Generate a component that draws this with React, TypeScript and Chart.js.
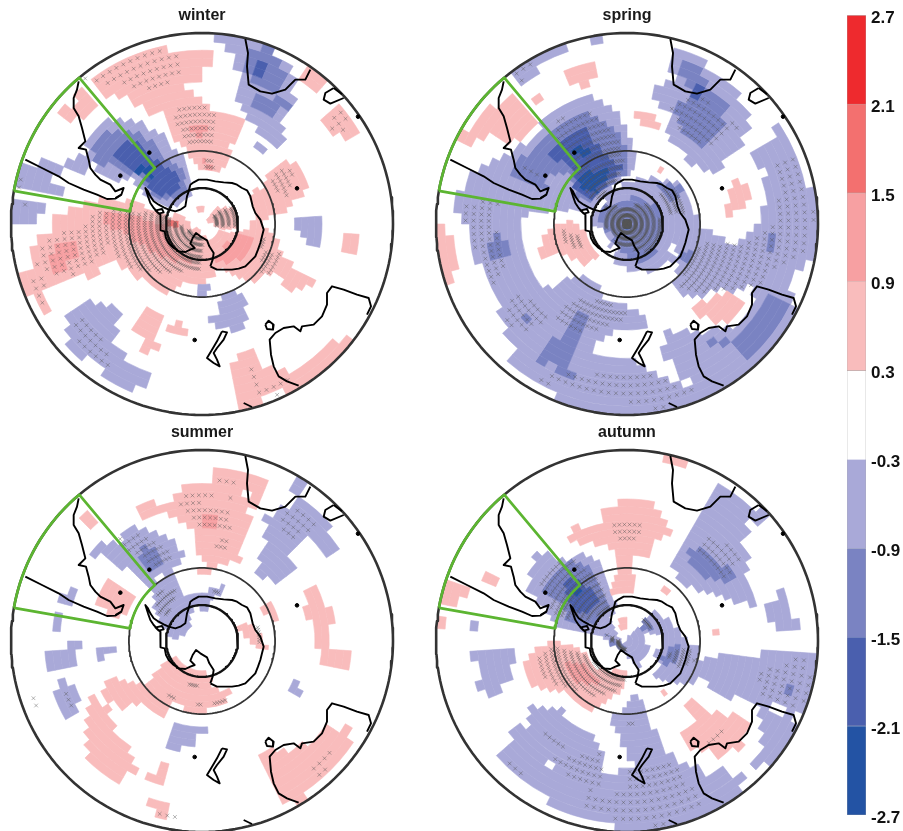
import React, { useEffect, useRef } from "react";
import Chart from "chart.js/auto";

// Map units: stereographic south-polar map, traced in units of 1/3 px, origin given per season.
type Blob = number[]; // [level, x1, y1, x2, y2, ...]
const seasonTitles = ["winter", "spring", "summer", "autumn"];
const tickValues = [-2.7, -2.1, -1.5, -0.9, -0.3, 0.3, 0.9, 1.5, 2.1, 2.7];
const levelColors: Record<number, string> = {
  [-4]: "#2353a4", [-3]: "#4a5fae", [-2]: "#7a83c2", [-1]: "#a9a9d8", 0: "#ffffff",
  1: "#f9bcbc", 2: "#f7a0a2", 3: "#f3706f", 4: "#ee2a2e",
};
const barBins = [-4, -3, -2, -1, 0, 1, 2, 3, 4];
const rimLat = -20;
const circleLats = [-20, -60, -75];
const sectorLons = [-80, -40];
const sectorLats = [-60, -20];

const winterShades: Blob[] = [
  [1, 245,232,330,195,470,140,520,150,560,160,585,150,650,152,650,190,612,215,600,245,540,232,530,250,590,285,640,330,670,345,722,360,732,400,690,432,682,482,650,520,600,505,575,470,555,450,520,410,500,370,495,345,430,330,385,300,345,270,320,290,280,265],
  [1, 250,270,300,330,240,350,220,300],
  [1, 165,340,205,320,225,370,180,370],
  [1, 110,395,130,395,120,420],
  [1, 65,820,90,795,90,740,155,695,165,645,240,622,290,600,390,600,470,640,510,650,540,640,575,680,615,710,640,735,640,800,640,830,600,850,560,840,500,880,460,860,380,810,330,770,305,790,300,830,230,835,180,840,135,870,140,970,100,910,60,850],
  [1, 620,800,690,815,745,850,790,830,830,825,870,872,925,862,945,830,905,810,860,785,830,725,790,680,800,640,855,640,890,600,925,545,885,482,855,485,790,520,805,570,760,565,745,600,770,640,745,690,700,700,660,690,630,720,645,760],
  [1, 645,625,700,620,715,680,660,690,620,660],
  [1, 590,620,610,620,610,635,590,635],
  [1, 885,205,925,210,965,240,945,270,905,235],
  [1, 945,365,990,330,1030,305,1065,360,1055,415,1005,395],
  [1, 1025,715,1075,695,1078,760,1035,775],
  [1, 415,945,460,925,500,950,470,1020,440,1020,405,990],
  [1, 425,1050,450,1020,472,1040,445,1065],
  [1, 505,985,530,965,565,990,540,1020],
  [1, 680,1095,765,1045,775,1105,830,1100,900,1120,1040,995,1075,1035,1000,1120,890,1165,790,1180,770,1240,700,1220,690,1150],
  [2, 555,370,620,365,630,385,600,410,565,400],
  [2, 610,480,640,485,640,510,615,505],
  [2, 150,740,215,725,235,780,160,810],
  [2, 300,640,390,640,500,680,510,730,580,790,550,790,470,770,400,720,320,670],
  [2, 710,700,760,710,730,780,680,790,640,780],
  [3, 505,660,525,660,525,680,505,680],
  [-1, 655,113,735,113,800,135,885,200,880,250,860,265,890,300,860,350,830,365,870,425,835,440,780,400,730,340,700,290,720,245,690,160],
  [-2, 745,170,790,140,830,165,870,235,845,270,795,270,760,240,740,210],
  [-2, 760,290,860,290,860,330,800,345,750,310],
  [-3, 755,185,795,185,800,220,760,225],
  [-1, 770,425,805,450,780,470,755,445],
  [-1, 250,410,320,360,400,365,480,395,515,445,560,480,575,590,510,625,450,600,420,570,390,530,340,540,290,515,270,480],
  [-1, 215,470,240,450,280,480,270,515,190,515,195,545,115,497,150,478,200,490],
  [-2, 275,430,330,385,410,395,470,440,510,490,550,500,560,570,510,600,460,590,420,530,350,510,290,480],
  [-3, 340,450,370,420,420,430,460,470,500,500,530,520,540,560,490,590,450,570,430,520,370,490],
  [-4, 395,490,430,490,465,505,450,535,410,520],
  [-1, 50,510,95,505,195,560,165,590,60,580],
  [-1, 35,585,100,590,130,625,105,665,45,670],
  [-1, 590,855,625,855,625,890,590,890],
  [-1, 660,890,700,870,725,880,745,960,710,990,640,985,630,955,660,930],
  [-1, 865,675,915,645,965,660,965,745,920,745,900,690],
  [-1, 200,965,240,905,365,925,335,1040,440,1120,430,1165,370,1165,300,1110,210,1040],
];
const winterCrosses: number[][] = [
  [245,235,470,145,550,170,550,210,470,280,420,265,340,250,280,260],
  [525,310,600,310,650,350,640,400,640,440,575,440,520,370],
  [610,470,640,470,640,505,610,500],
  [825,510,880,510,860,590,810,570],
  [285,630,390,630,500,650,610,720,600,810,480,820,380,800,330,750],
  [130,720,240,680,290,630,320,760,210,830,100,810],
  [70,830,130,820,135,930,100,910],
  [640,640,700,620,705,680,650,680],
  [780,640,800,760,860,750,820,830,780,820],
  [980,340,1050,330,1040,400,990,390],
  [220,960,270,960,330,1060,320,1120,230,1040],
  [750,1095,790,1150,890,1135,830,1190,770,1200],
  [55,530,105,560,55,570],
  [50,600,90,600,60,650],
];

const springShades: Blob[] = [
  [-1, 85,600,125,535,190,480,270,450,345,395,365,345,430,305,505,285,570,330,620,420,632,510,570,550,515,625,440,630,300,640,285,680,295,770,350,865,400,850,440,830,490,835,530,860,530,895,620,925,670,960,670,990,610,980,500,1035,490,1060,600,1075,690,1110,760,1160,805,1165,720,1075,710,1000,790,985,815,1000,850,985,910,985,965,960,985,880,1020,860,1115,895,1090,1000,1040,1090,900,1160,750,1220,600,1245,450,1220,300,1140,250,1090,280,1050,225,970,215,900,190,860,185,800,140,770,130,690,85,620],
  [-1, 250,235,330,175,440,135,440,150,370,170,340,220,280,255],
  [-1, 510,115,530,115,530,130,510,130],
  [-1, 690,270,720,245,745,250,745,185,760,155,850,165,845,200,890,235,920,245,930,270,975,370,950,430,905,470,890,520,830,520,790,480,720,400,735,350,695,310],
  [-1, 1025,420,1060,375,1090,400,1115,460,1140,530,1175,620,1175,760,1140,790,1110,830,1080,855,990,860,840,880,800,890,750,880,750,800,780,740,840,690,900,710,920,740,1000,680,1025,600,1020,520,980,480,1000,440],
  [-1, 510,640,560,570,650,530,760,550,790,610,840,690,780,740,730,790,680,815,620,815,565,790,570,760,590,730,530,745,500,720,495,670],
  [0, 505,680,545,690,560,730,530,745,500,720],
  [0, 740,730,760,740,750,770,730,760],
  [-2, 530,620,620,590,700,620,715,680,690,760,640,790,590,760,550,700,520,660],
  [-4, 598,664,612,664,612,682,598,682],
  [-2, 270,490,345,430,400,360,500,340,570,380,610,460,600,520,540,560,500,610,450,590,430,520,365,530,360,570,300,545,250,530],
  [-3, 375,470,410,410,480,390,540,460,590,500,540,560,490,600,445,560,450,510],
  [-4, 440,440,490,440,510,470,450,470],
  [-4, 470,510,560,510,510,580,460,560],
  [-2, 775,190,820,190,860,260,910,330,880,400,850,440,790,430,745,330,780,300,800,265,770,260],
  [-3, 800,250,850,250,820,300,780,310,785,280],
  [-2, 140,575,190,575,170,590,140,590],
  [-2, 190,720,215,690,250,725,250,770,195,775],
  [-2, 1030,720,1055,695,1055,745,1030,745],
  [-2, 295,950,315,950,315,970,295,970],
  [-2, 770,750,805,760,785,800,765,780],
  [-2, 340,1060,420,990,450,920,490,950,480,995,430,1060,445,1135,340,1080],
  [-2, 915,1040,1040,885,1090,900,1085,960,980,1090,920,1060],
  [-2, 840,1025,860,1025,860,1045,840,1045],
  [-2, 885,1020,905,1030,890,1045],
  [-2, 700,550,760,555,780,600,720,600],
  [1, 415,220,520,185,525,235,465,265,410,240],
  [1, 630,155,650,155,650,175,630,175],
  [1, 635,340,690,345,700,380,665,385,635,360],
  [1, 695,500,710,500,705,515],
  [1, 110,410,150,350,200,305,215,320,260,290,330,370,290,420,220,430,180,400,150,440],
  [1, 310,300,340,290,345,320,325,335],
  [1, 40,650,70,700,100,800,85,860,60,830,45,740],
  [1, 345,720,390,680,440,660,480,700,520,770,470,800,430,760,350,775],
  [1, 905,570,940,540,975,575,960,625,910,645],
  [1, 795,935,815,920,830,910,910,870,950,910,930,960,880,970,830,950,805,950],
  [1, 730,130,745,130,745,140,735,140],
];
const springCrosses: number[][] = [
  [100,610,230,600,200,640,240,800,200,860,130,700],
  [270,880,340,910,420,980,490,1000,620,950,530,900,450,900,370,960,300,1000,230,960],
  [500,1120,680,1120,800,1170,700,1230,350,1150,330,1120],
  [1040,480,1110,470,1170,640,1150,770,1070,790,1000,860,800,880,760,860,790,780,830,730,960,730,1060,670,1060,550],
  [410,690,470,710,480,740,450,745,410,720],
  [540,620,680,610,715,680,680,760,580,740,540,680],
  [440,500,600,480,570,550,500,610],
  [390,360,500,330,580,420,590,480,450,480,390,420],
  [290,500,360,520,340,540],
  [700,560,760,570,780,640,720,640],
  [730,310,830,290,930,380,850,440,770,400],
  [900,360,960,370,920,400],
  [260,230,330,180,330,210,280,250],
];

const summerShades: Blob[] = [
  [1, 400,265,470,240,480,255,510,245,510,220,560,195,630,180,650,145,720,150,760,180,800,175,775,255,745,260,745,205,720,200,750,290,725,380,720,420,690,430,630,445,600,425,590,350,520,290,480,275,430,295],
  [1, 590,445,630,445,630,462,590,462],
  [1, 290,540,320,490,350,480,400,535,370,580,330,590,300,560],
  [1, 240,295,260,280,282,315,265,325],
  [1, 915,510,940,490,970,550,1000,570,990,680,1055,705,1045,760,960,740,940,600,915,590],
  [1, 785,560,805,550,835,595,815,605],
  [1, 690,625,725,615,760,615,800,680,770,690,730,640],
  [1, 310,800,345,770,400,790,440,790,480,740,530,705,555,735,590,745,640,770,630,800,690,815,660,865,600,875,560,870,510,850,490,885,460,880,400,840,360,865,310,825],
  [1, 250,890,280,830,330,870,345,930,400,1000,405,1045,365,1080,270,1050,245,965,275,930],
  [1, 470,1025,490,1025,505,1065,475,1090,435,1075,445,1060,480,1050],
  [1, 455,1140,510,1150,520,1185,490,1190,460,1165],
  [1, 80,825,110,825,105,850,85,850],
  [1, 770,1010,810,990,850,1000,895,980,960,950,985,905,1040,930,1080,965,920,1120,890,1150,830,1125,810,1090,780,1050],
  [1, 1085,870,1110,880,1110,900],
  [2, 605,295,640,285,650,320,610,320],
  [-1, 865,170,890,170,925,205,905,230,870,215],
  [-1, 795,300,880,240,915,240,970,300,1020,380,990,405,930,360,870,400,880,440,830,500,765,450,790,390,795,340],
  [-1, 270,395,300,370,350,365,400,320,440,320,520,365,550,400,530,440,510,460,470,465,455,510,440,505,400,450,330,430],
  [-1, 455,520,480,475,520,470,550,530,570,525,670,500,670,520,640,530,620,575,605,570,590,545,570,590,570,630,515,665,495,630,470,590],
  [-1, 175,545,205,510,230,510,215,550,190,555],
  [-1, 135,590,180,590,180,625,155,620],
  [-1, 135,710,200,680,245,665,240,685,220,745,170,760,215,790,235,830,225,885,190,895,160,825,180,770,140,760],
  [-1, 290,690,315,680,350,690,345,705,295,715],
  [-1, 860,810,890,770,905,780,895,800,915,815,875,830],
  [-1, 500,955,530,915,625,925,625,945,580,945,575,975,525,990,500,970],
  [-2, 415,405,435,375,480,400,485,450,440,450],
];
const summerCrosses: number[][] = [
  [545,215,630,215,640,240,540,265],
  [645,170,720,170,700,200,650,190],
  [680,220,710,220,700,250],
  [545,255,690,260,690,335,600,330,570,285],
  [640,360,680,360,685,400,650,390],
  [560,185,590,185,590,195,560,195],
  [350,360,400,335,500,380,520,430,460,440,410,400,360,380],
  [835,285,900,260,950,320,880,360,850,350],
  [470,510,530,510,500,590,470,580],
  [555,525,665,510,660,520,555,530],
  [760,620,790,620,795,670,770,670],
  [560,785,610,785,580,810],
  [490,825,525,825,520,850],
  [585,840,605,840,600,870],
  [640,835,685,825,670,860,640,865],
  [190,770,215,800,220,880,195,880],
  [280,905,300,910,295,930],
  [925,1030,985,980,1010,1000,960,1070],
  [80,825,115,840,100,880,85,850],
  [465,1165,520,1175,540,1210,490,1210],
  [345,1145,380,1150,375,1165,345,1160],
];

const autumnShades: Blob[] = [
  [-1, 135,705,210,680,270,700,245,790,210,825,150,800,165,745],
  [-1, 280,815,300,815,295,830],
  [-1, 135,605,158,605,158,625,135,625],
  [-1, 730,430,790,340,840,270,890,205,930,220,960,240,985,260,970,290,975,310,945,370,975,420,960,460,995,560,930,550,830,515,770,490],
  [0, 900,310,920,305,925,325,905,330],
  [-1, 975,280,1005,265,1030,290,990,310],
  [-1, 1025,565,1075,515,1095,600,1125,600,1120,620,1060,620,1030,600],
  [-1, 305,515,340,385,395,425,460,400,530,430,555,510,575,560,555,600,575,640,600,700,530,650,480,640,385,625,380,590],
  [-1, 650,600,690,570,740,610,790,670,825,680,820,770,800,790,750,790,680,770,710,740,680,700,720,680,700,640,650,640],
  [-1, 600,660,640,620,670,680,660,700,640,745,590,690],
  [-1, 820,730,890,700,1000,705,1060,695,1170,690,1170,780,1120,880,1040,860,985,850,900,830,820,770],
  [-1, 225,1015,260,930,310,920,320,860,415,860,425,910,500,950,535,1010,540,1060,610,1050,625,1030,600,1000,555,900,600,860,625,825,650,840,670,895,720,1000,805,1045,825,1040,845,1075,890,1040,920,1070,965,1080,1000,990,1005,900,985,870,1110,880,1110,930,1030,1030,900,1150,750,1220,600,1235,450,1190,360,1140,300,1080],
  [0, 350,1030,370,1015,390,1040,370,1050],
  [-2, 780,385,810,380,880,420,925,465,905,490,840,470,790,430],
  [-2, 360,490,420,420,490,440,530,500,550,560,490,620,430,610,410,550,360,530],
  [-3, 410,490,450,475,500,510,520,540,490,580,450,580,430,530],
  [-4, 455,500,470,505,465,520,450,520],
  [-2, 1085,800,1100,790,1110,810,1095,820],
  [-2, 700,720,750,670,770,690,730,750],
  [-2, 540,640,590,670,605,700,570,690],
  [-2, 650,600,680,600,680,630,650,630],
  [1, 415,345,460,320,530,310,540,265,605,240,660,240,690,265,730,310,730,340,700,360,665,405,625,410,625,500,625,520,560,525,560,500,575,450,570,395,510,370,440,370],
  [1, 160,450,175,440,225,465,215,495,190,490],
  [1, 50,530,75,490,130,510,100,530,90,565,50,565],
  [1, 35,570,85,600,55,625,35,640],
  [1, 715,505,730,510,720,525],
  [1, 860,630,880,630,880,640,860,640],
  [1, 300,740,330,680,400,665,470,690,510,740,610,785,590,810,530,850,500,870,430,820,370,810,310,790],
  [1, 580,600,605,595,605,630,585,630],
  [1, 560,740,610,750,600,770,560,760],
  [1, 715,815,725,825,720,830],
  [1, 755,945,810,910,775,860,810,835,850,880,930,890,975,900,950,960,940,990,880,1015,840,990,810,985],
  [1, 725,115,775,125,745,140],
  [2, 410,720,470,735,520,790,450,790],
];
const autumnCrosses: number[][] = [
  [575,275,600,275,590,292],
  [570,300,650,300,640,350,600,370,650,375,560,350],
  [810,390,860,340,950,410,900,480],
  [330,490,370,440,440,420,520,470,550,560,500,600,420,600,380,580,370,530],
  [540,640,610,680,590,700],
  [650,600,680,600,680,630],
  [330,720,380,680,470,700,600,780,580,810,520,830,370,790],
  [990,760,1160,700,1150,830,1110,870,1010,830],
  [720,700,790,680,810,720,760,750],
  [830,960,900,920,880,970,840,985],
  [585,900,630,900,620,925],
  [340,930,400,960,420,990,370,960],
  [380,1010,530,1000,530,1070,510,1120,430,1070],
  [600,1040,750,1030,820,1130,830,1170,700,1220,480,1180,470,1130,600,1120],
  [240,1010,300,1050,290,1090],
];

// Coastlines, in the winter panel's tracing units (origin 605, 672)
const southAmericaEast = [235,244,230,269,220,294,220,324,235,349,245,384,255,424,235,444,257,449,265,479,270,504,285,524,300,539,330,554,345,574,370,564,363,584,345,594];
const southAmericaWest = [75,479,125,504,175,529,205,549,250,569,290,584,320,597,345,596,363,584];
const antarctica = [630,799,650,809,675,809,695,809,715,806,735,799,750,784,765,769,773,749,780,729,785,709,790,689,780,659,765,639,757,619,750,589,740,571,725,564,710,554,695,549,670,547,645,544,620,539,595,539,580,547,570,554,565,574,560,589,555,619,540,629,525,634,505,629,490,622,475,614,460,604,450,589,443,574,435,564,443,589,450,609,460,624,467,631,485,627,490,637,475,641,465,631,480,644,481,669,480,691,493,694,497,714,505,729,520,744,535,754,555,756,570,749,583,744,570,731,577,714,587,699,600,709,620,721,627,739,640,759,637,779,630,799];
const africa = [735,117,743,159,740,199,745,254,780,274,815,281,855,269,885,239,915,239,930,209];
const madagascar = [1000,264,975,279,970,299,990,311,1030,294];
const madagascarTop = [1000,264,1025,283];
const australia = [895,1157,860,1144,835,1129,820,1099,812,1064,808,1019,825,999,850,984,880,979,900,994,905,979,940,974,965,949,980,914,980,879,995,859,1030,869,1070,884,1105,894,1112,919,1100,944];
const tasmania = [795,974,805,962,820,974,818,989,800,987,795,974];
const newZealand = [665,994,680,997,670,1019,650,1044,640,1059,650,1079,658,1099,640,1089,620,1074,635,1049,650,1024,665,994];
const rimStub = [730,1209,755,1221];
const coasts = [southAmericaEast, southAmericaWest, antarctica, africa, madagascar, madagascarTop, australia, tasmania, newZealand, rimStub];
const islands = [360,527,447,458,890,565,1073,350,583,1020];

const origins = [[605, 672], [605, 672], [605, 663], [605, 663]];
const shades = [winterShades, springShades, summerShades, autumnShades];
const crossSets = [winterCrosses, springCrosses, summerCrosses, autumnCrosses];
const panelCenters = [[202, 224], [627, 224], [202, 641], [627, 641]];

const rimRadius = 573;
const latStep = 2.5;
const cellLonStep = 3.75;
const crossLonStep = 2.5;
const project = (lat: number, lon: number) => {
  const rad = Math.PI / 180;
  const r = (rimRadius * Math.tan(((90 + lat) * rad) / 2)) / Math.tan(((90 + rimLat) * rad) / 2);
  return { x: r * Math.sin(lon * rad), y: -r * Math.cos(lon * rad), r };
};
const inside = (p: number[], x: number, y: number, start: number) => {
  let hit = false;
  const n = p.length;
  for (let i = start, j = n - 2; i < n; j = i, i += 2) {
    const xi = p[i], yi = p[i + 1], xj = p[j], yj = p[j + 1];
    if (yi > y !== yj > y && x < ((xj - xi) * (y - yi)) / (yj - yi) + xi) hit = !hit;
  }
  return hit;
};
const rings: number[] = [];
for (let c = 90 + rimLat - latStep; c >= 0; c -= latStep) rings.push(c); // outer to inner band start colatitude
const nCellLon = Math.round(360 / cellLonStep);
const nCrossLon = Math.round(360 / crossLonStep);

function buildRings(idx: number) {
  const [ox, oy] = origins[idx];
  const blobs = shades[idx].map((b) => {
    const q = b.slice();
    for (let i = 1; i < q.length; i += 2) { q[i] -= ox; q[i + 1] -= oy; }
    return q;
  });
  return rings.map((c) => {
    const lat = -90 + c + latStep / 2;
    const runs: number[] = [];
    const lv: number[] = [];
    for (let j = 0; j < nCellLon; j++) {
      const { x, y } = project(lat, (j + 0.5) * cellLonStep);
      let level = 0;
      for (const b of blobs) if (inside(b, x, y, 1)) level = b[0];
      if (lv.length && lv[lv.length - 1] === level) runs[runs.length - 1] += 1;
      else { lv.push(level); runs.push(1); }
    }
    const outer = project(-90 + c + latStep, 0).r;
    const inner = project(-90 + c, 0).r;
    return {
      data: runs,
      weight: outer - inner,
      backgroundColor: lv.map((l) => (l === 0 ? "rgba(255,255,255,0)" : levelColors[l])),
      borderColor: lv.map((l) => (l === 0 ? "rgba(255,255,255,0)" : levelColors[l])),
      borderWidth: lv.map((l) => (l === 0 ? 0 : 0.6)),
    };
  });
}

function buildCrossPoints(idx: number) {
  const [ox, oy] = origins[idx];
  const polys = crossSets[idx].map((p) => p.map((v, i) => (i % 2 ? v - oy : v - ox)));
  const pts: { x: number; y: number }[] = [];
  rings.forEach((c) => {
    const lat = -90 + c + latStep / 2;
    for (let j = 0; j < nCrossLon; j++) {
      const q = project(lat, (j + 0.5) * crossLonStep);
      if (polys.some((p) => inside(p, q.x, q.y, 0))) pts.push({ x: q.x, y: q.y });
    }
  });
  return pts;
}

const toPts = (a: number[]) => {
  const o: { x: number; y: number }[] = [];
  for (let i = 0; i < a.length; i += 2) o.push({ x: a[i] - 605, y: a[i + 1] - 672 });
  return o;
};
const latCircle = (lat: number) => {
  const o: { x: number; y: number }[] = [];
  for (let l = 0; l <= 360; l += 2) { const p = project(lat, l); o.push({ x: p.x, y: p.y }); }
  return o;
};
const sectorOutline = () => {
  const o: { x: number; y: number }[] = [];
  for (let l = sectorLons[0]; l <= sectorLons[1]; l += 2) { const p = project(sectorLats[1], l); o.push({ x: p.x, y: p.y }); }
  for (let l = sectorLons[1]; l >= sectorLons[0]; l -= 2) { const p = project(sectorLats[0], l); o.push({ x: p.x, y: p.y }); }
  o.push(o[0]);
  return o;
};

const lineDs = (data: any[], color: string, width: number) => ({
  type: "scatter" as const, data, showLine: true, borderColor: color, borderWidth: width,
  pointRadius: 0, fill: false, tension: 0, clip: false as any, borderJoinStyle: "round" as const,
});

const absCanvas = (left: number, top: number, w: number, h: number): React.CSSProperties => ({
  position: "absolute", left, top, width: w, height: h, display: "block",
});

function Panel({ idx }: { idx: number }) {
  const cells = useRef<HTMLCanvasElement>(null);
  const over = useRef<HTMLCanvasElement>(null);
  const [cx, cy] = panelCenters[idx];
  useEffect(() => {
    const a = new Chart(cells.current!, {
      type: "doughnut",
      data: { datasets: buildRings(idx) as any },
      options: {
        responsive: false, animation: false, events: [], cutout: 0, radius: rimRadius / 3, rotation: 0,
        layout: { autoPadding: false },
        plugins: { legend: { display: false }, tooltip: { enabled: false } },
      } as any,
    });
    const titleTop = 6;
    const titleSize = 16;
    const titleBlock = titleTop + titleSize * 1.2;
    const b = new Chart(over.current!, {
      type: "scatter",
      data: {
        // Chart.js paints the first dataset on top, so the list runs from top to bottom.
        datasets: [
          lineDs(sectorOutline(), "#5cb531", 2.7),
          ...coasts.map((c) => lineDs(toPts(c), "#000000", 1.9)),
          { type: "scatter", data: toPts(islands), pointStyle: "circle", pointRadius: 1.8, backgroundColor: "#000", borderColor: "#000", showLine: false } as any,
          lineDs(latCircle(circleLats[2]), "#111111", 2.4),
          lineDs(latCircle(circleLats[1]), "#333333", 1.8),
          lineDs(latCircle(circleLats[0]), "#333333", 2.6),
          { type: "scatter", data: buildCrossPoints(idx), pointStyle: "crossRot", pointRadius: 2.6, pointBorderWidth: 0.55, borderColor: "rgba(85,85,85,0.8)", backgroundColor: "transparent", showLine: false } as any,
        ],
      },
      options: {
        responsive: false, animation: false, events: [],
        layout: { padding: 0, autoPadding: false },
        plugins: {
          legend: { display: false }, tooltip: { enabled: false },
          title: { display: true, text: seasonTitles[idx], color: "#1a1a1a", font: { family: "'Liberation Sans'", weight: "bold", size: titleSize, lineHeight: 1.2 }, padding: { top: titleTop, bottom: 0 } },
        },
        scales: {
          x: { type: "linear", display: false, min: -600, max: 600 },
          y: { type: "linear", display: false, reverse: true, min: -(224 - titleBlock) * 3, max: (420 - 224) * 3 },
        },
      } as any,
    });
    return () => { a.destroy(); b.destroy(); };
  }, [idx]);
  return (
    <>
      <canvas ref={cells} width={400} height={400} style={absCanvas(cx - 200, cy - 200, 400, 400)} />
      <canvas ref={over} width={400} height={420} style={absCanvas(cx - 200, cy - 224, 400, 420)} />
    </>
  );
}

function ColorBar() {
  const ref = useRef<HTMLCanvasElement>(null);
  useEffect(() => {
    const c = new Chart(ref.current!, {
      type: "bar",
      data: {
        labels: [""],
        datasets: barBins.map((l, i) => ({
          data: [[tickValues[i], tickValues[i + 1]]] as any,
          backgroundColor: levelColors[l], borderColor: "#a8a8a8", borderWidth: 0.6,
          barPercentage: 1, categoryPercentage: 1, grouped: false,
        })),
      },
      options: {
        responsive: false, animation: false, events: [],
        layout: { padding: { top: 15, bottom: 16, left: 17, right: 0 }, autoPadding: false },
        plugins: { legend: { display: false }, tooltip: { enabled: false } },
        scales: {
          x: { display: false },
          y: {
            position: "right", min: -2.7, max: 2.7,
            afterBuildTicks: (s: any) => { s.ticks = tickValues.map((value) => ({ value })); },
            afterFit: (s: any) => { s.width = 37; },
            grid: { display: false, drawTicks: false }, border: { display: false },
            ticks: {
              autoSkip: false, padding: 5, color: "#111", crossAlign: "near", labelOffset: 3,
              font: { family: "'Liberation Sans'", weight: "bold", size: 17 },
              callback: (v: any) => Number(v).toFixed(1),
            },
          },
        },
      } as any,
    });
    return () => c.destroy();
  }, []);
  return <canvas ref={ref} width={73} height={831} style={absCanvas(830, 0, 73, 831)} />;
}

export default function App() {
  return (
    <div style={{ position: "fixed", left: 0, top: 0, width: 903, height: 831, background: "#fff", overflow: "hidden", filter: "blur(0.45px)" }}>
      {seasonTitles.map((_, i) => <Panel key={i} idx={i} />)}
      <ColorBar />
    </div>
  );
}
